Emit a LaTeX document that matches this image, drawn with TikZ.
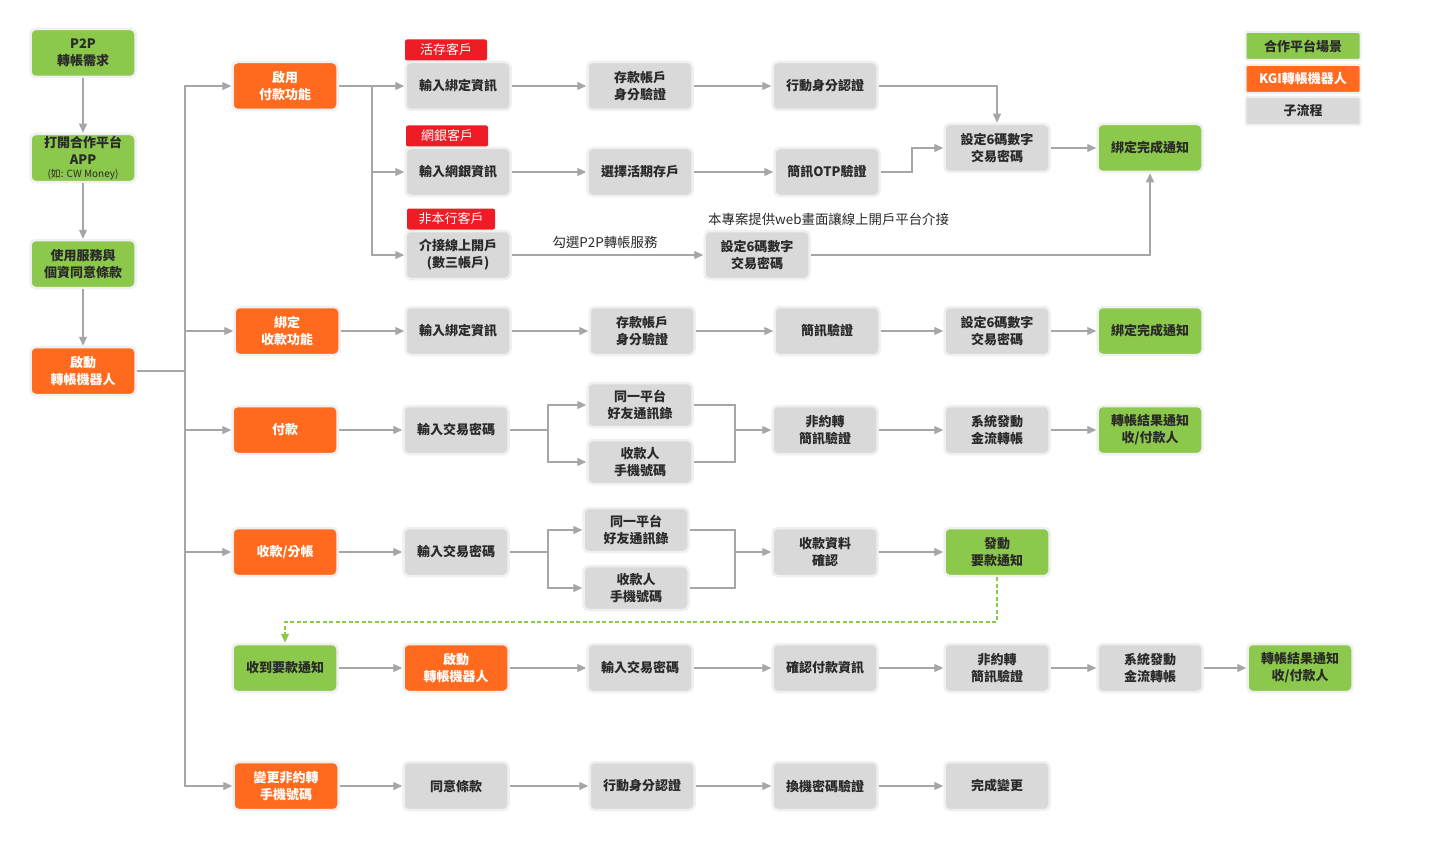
\documentclass[tikz,border=0pt]{standalone}
\usepackage{fontspec}
\setmainfont{Noto Sans CJK TC}
\usetikzlibrary{arrows.meta}
\definecolor{cgreen}{HTML}{8CC84B}
\definecolor{corange}{HTML}{FF6A1E}
\definecolor{cgray}{HTML}{D9D9D9}
\definecolor{cred}{HTML}{EE1C25}
\definecolor{carrow}{HTML}{A6A6A6}
\definecolor{chalo}{HTML}{F0F0F0}
\definecolor{ctext}{HTML}{2A2A2A}
\tikzset{
  box/.style={rounded corners=5pt, minimum width=105pt, minimum height=48pt, align=center,
    draw=chalo, line width=2.5pt, inner sep=2pt,
    font=\fontsize{13pt}{17pt}\selectfont\bfseries},
  gbox/.style={box, fill=cgreen, text=ctext},
  obox/.style={box, fill=corange, text=white},
  sbox/.style={box, fill=cgray, text=ctext},
  tag/.style={rounded corners=2pt, fill=cred, text=white, minimum height=21pt, inner sep=3pt,
    font=\fontsize{13pt}{14pt}\selectfont},
  lbox/.style={minimum width=115pt, minimum height=28pt, rounded corners=2pt, draw=chalo, line width=2pt,
    font=\fontsize{13pt}{15pt}\selectfont\bfseries},
  arr/.style={draw=carrow, line width=1.3pt, -{Triangle[length=9pt,width=8pt]}},
  ln/.style={draw=carrow, line width=1.3pt},
  gdash/.style={draw=cgreen, line width=1.3pt, dash pattern=on 4pt off 2.5pt, -{Triangle[length=9pt,width=8pt]}},
  lbl/.style={font=\fontsize{13.4pt}{15pt}\selectfont, text=ctext, inner sep=1pt}
}
\begin{document}
\begin{tikzpicture}[x=1pt,y=-1pt]
\useasboundingbox[fill=white] (0,0) rectangle (1430,856);

% legend
\node[lbox, fill=cgreen, text=ctext] (lg1) at (1303,46) {合作平台場景};
\node[lbox, fill=corange, text=white] (lg2) at (1303,79) {KGI轉帳機器人};
\node[lbox, fill=cgray, text=ctext] (lg3) at (1303,111) {子流程};

% left column
\node[gbox] (p2p) at (83,53) {P2P\\轉帳需求};
\node[gbox] (app) at (83,158) {打開合作平台\\APP\\[-4pt]{\fontsize{10pt}{10pt}\selectfont\mdseries (如: CW Money)}};
\node[gbox] (terms) at (83,264) {使用服務與\\個資同意條款};
\node[obox] (robot) at (83,371) {啟動\\轉帳機器人};
\draw[arr] (p2p) -- (app);
\draw[arr] (app) -- (terms);
\draw[arr] (terms) -- (robot);

% second column
\node[obox] (en) at (285,86) {啟用\\付款功能};
\node[obox] (bindr) at (287,331) {綁定\\收款功能};
\node[obox] (pay) at (285,430) {付款};
\node[obox] (coll) at (285,552) {收款/分帳};
\node[gbox] (recv) at (285,668) {收到要款通知};
\node[obox] (chg) at (286,786) {變更非約轉\\手機號碼};

\coordinate (t0) at (185,371);
\draw[ln] (robot.east) -- (t0);
\draw[arr] (t0) |- (en.west);
\draw[arr] (t0) |- (bindr.west);
\draw[arr] (t0) |- (pay.west);
\draw[arr] (t0) |- (coll.west);
\draw[arr] (t0) |- (chg.west);

% row 1: enable payment
\node[sbox] (bind1) at (458,86) {輸入綁定資訊};
\node[tag, minimum width=82pt] (tg1) at (446,50) {活存客戶};
\node[sbox] (ebank) at (458,172) {輸入網銀資訊};
\node[tag, minimum width=82pt] (tg2) at (447,136) {網銀客戶};
\node[sbox] (ext) at (458,255) {介接線上開戶\\(數三帳戶)};
\node[tag, minimum width=88pt] (tg3) at (451,219) {非本行客戶};
\node[sbox] (acc1) at (640,86) {存款帳戶\\身分驗證};
\node[sbox] (choose) at (640,172) {選擇活期存戶};
\node[sbox] (mid1) at (825,86) {行動身分認證};
\node[sbox] (otp) at (827,172) {簡訊OTP驗證};
\node[sbox] (set2) at (757,255) {設定6碼數字\\交易密碼};
\node[sbox] (set1) at (997,148) {設定6碼數字\\交易密碼};
\node[gbox] (done1) at (1150,148) {綁定完成通知};
\node[lbl] (lb1) at (605,242) {勾選P2P轉帳服務};
\node[lbl, anchor=west] (lb2) at (707,219) {本專案提供web畫面讓線上開戶平台介接};

\coordinate (s1) at (372,86);
\draw[arr] (en.east) -- (bind1.west);
\draw[arr] (s1) |- (ebank.west);
\draw[arr] (s1) |- (ext.west);
\draw[arr] (bind1) -- (acc1);
\draw[arr] (acc1) -- (mid1);
\draw[arr] (mid1.east) -| (set1.north);
\draw[arr] (ebank) -- (choose);
\draw[arr] (choose.east) -- (otp.west);
\coordinate (o1) at (912,172);
\draw[arr] (otp.east) -- (o1) |- (set1.west);
\draw[arr] (set1) -- (done1);
\draw[arr] (ext) -- (set2);
\draw[arr] (set2.east) -| (done1.south);

% row 2: bind receive
\node[sbox] (bind2) at (458,331) {輸入綁定資訊};
\node[sbox] (acc2) at (642,331) {存款帳戶\\身分驗證};
\node[sbox] (sms2) at (827,331) {簡訊驗證};
\node[sbox] (set3) at (997,331) {設定6碼數字\\交易密碼};
\node[gbox] (done2) at (1150,331) {綁定完成通知};
\draw[arr] (bindr) -- (bind2);
\draw[arr] (bind2) -- (acc2);
\draw[arr] (acc2) -- (sms2);
\draw[arr] (sms2) -- (set3);
\draw[arr] (set3) -- (done2);

% row 3: pay
\node[sbox] (pw1) at (456,430) {輸入交易密碼};
\node[sbox, minimum height=44pt] (fr1) at (640,405) {同一平台\\好友通訊錄};
\node[sbox, minimum height=44pt] (ph1) at (640,462) {收款人\\手機號碼};
\node[sbox] (nc1) at (825,430) {非約轉\\簡訊驗證};
\node[sbox] (sys1) at (997,430) {系統發動\\金流轉帳};
\node[gbox] (res1) at (1150,430) {轉帳結果通知\\收/付款人};
\coordinate (sp1) at (548,430);
\coordinate (mg1) at (735,430);
\draw[arr] (pay) -- (pw1);
\draw[ln] (pw1.east) -- (sp1);
\draw[arr] (sp1) |- (fr1.west);
\draw[arr] (sp1) |- (ph1.west);
\draw[ln] (fr1.east) -| (mg1);
\draw[ln] (ph1.east) -| (mg1);
\draw[arr] (mg1) -- (nc1.west);
\draw[arr] (nc1) -- (sys1);
\draw[arr] (sys1) -- (res1);

% row 4: collect
\node[sbox] (pw2) at (456,552) {輸入交易密碼};
\node[sbox, minimum height=44pt] (fr2) at (636,530) {同一平台\\好友通訊錄};
\node[sbox, minimum height=44pt] (ph2) at (636,588) {收款人\\手機號碼};
\node[sbox] (cf2) at (825,552) {收款資料\\確認};
\node[gbox] (req) at (997,552) {發動\\要款通知};
\coordinate (sp2) at (548,552);
\coordinate (mg2) at (735,552);
\draw[arr] (coll) -- (pw2);
\draw[ln] (pw2.east) -- (sp2);
\draw[arr] (sp2) |- (fr2.west);
\draw[arr] (sp2) |- (ph2.west);
\draw[ln] (fr2.east) -| (mg2);
\draw[ln] (ph2.east) -| (mg2);
\draw[arr] (mg2) -- (cf2.west);
\draw[arr] (cf2) -- (req);
\coordinate (dd) at (997,622);
\draw[gdash] (req.south) -- (dd) -| (recv.north);

% row 5: receive request
\node[obox] (robot2) at (456,668) {啟動\\轉帳機器人};
\node[sbox] (pw3) at (640,668) {輸入交易密碼};
\node[sbox] (cp3) at (825,668) {確認付款資訊};
\node[sbox] (nc3) at (997,668) {非約轉\\簡訊驗證};
\node[sbox] (sys3) at (1150,668) {系統發動\\金流轉帳};
\node[gbox] (res3) at (1300,668) {轉帳結果通知\\收/付款人};
\draw[arr] (recv) -- (robot2);
\draw[arr] (robot2) -- (pw3);
\draw[arr] (pw3) -- (cp3);
\draw[arr] (cp3) -- (nc3);
\draw[arr] (nc3) -- (sys3);
\draw[arr] (sys3) -- (res3);

% row 6: change phone
\node[sbox] (agree) at (456,786) {同意條款};
\node[sbox] (mid6) at (642,786) {行動身分認證};
\node[sbox] (dev6) at (825,786) {換機密碼驗證};
\node[sbox] (fin6) at (997,786) {完成變更};
\draw[arr] (chg) -- (agree);
\draw[arr] (agree) -- (mid6);
\draw[arr] (mid6) -- (dev6);
\draw[arr] (dev6) -- (fin6);
\end{tikzpicture}
\end{document}
